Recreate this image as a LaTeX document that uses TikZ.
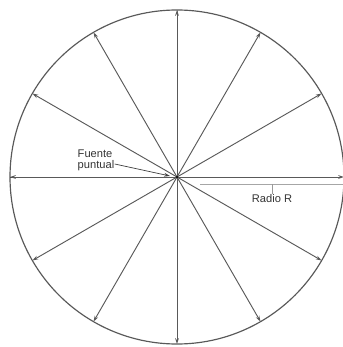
\documentclass[tikz,border=0pt]{standalone}
\usepackage{fontspec}
\setmainfont{Liberation Sans}
\usetikzlibrary{arrows.meta,calc}

\begin{document}
\begin{tikzpicture}[x=0.03cm,y=-0.03cm,line width=0.8pt,>={Stealth[length=5pt,width=3.2pt,fill=black!85]},
  ray/.style={->,draw=black!65},
  lbl/.style={font=\fontsize{9.5}{10.5}\selectfont,text=black!80,inner sep=0pt}]
\useasboundingbox (0,0) rectangle (342,347);
% sphere of radius R
\coordinate (O) at (177,177);
\draw[black!65,line width=1pt] (O) circle[radius=167];
% axes through the source
\draw[black!70] (O) -- ++(-167,0) coordinate (W);
\draw[black!50] (O) -- ++(0,-167) coordinate (N);
% rays every 30 degrees
\foreach \a in {0,30,...,330}
  \draw[ray] (O) -- ($(O)+(\a:167 and -167)$);
% radius dimension
\coordinate (R1) at (200,184);
\coordinate (R2) at (343,184);
\draw[black!35,line width=0.7pt] (R1) -- (R2);
\node[lbl] (radio) at (272,199) {Radio R};
\draw[black!40,line width=0.5pt] (radio.north) -- (radio.north |- R1);
% point source label
\node[lbl,align=left] (fuente) at (96,160) {Fuente\\[-1pt]puntual};
\coordinate (src) at (170,176);
\draw[->,black!75,line width=0.6pt] (fuente.east) ++(0,4) -- (src);
\fill[black] (O) circle[radius=1.2];
\end{tikzpicture}
\end{document}
